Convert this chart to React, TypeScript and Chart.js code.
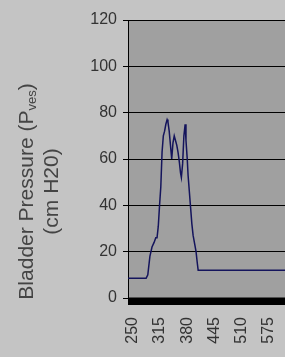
import React, { useEffect, useRef } from "react";
import { Chart, registerables } from "chart.js";

Chart.register(...registerables);

const timeValues = [239, 282, 286, 291, 296, 301, 305, 308, 311, 314, 317, 320, 323, 326, 329, 332, 334, 337, 340, 343, 346, 349, 352, 355, 358, 361, 364, 366, 369, 372, 375, 377, 380, 382, 385, 388, 391, 394, 398, 401, 404, 406, 613];
const pressureValues = [8.5, 8.5, 10, 18, 22, 24, 26, 26, 31, 40, 48, 63, 70, 72, 75, 77, 76, 72, 66, 60, 67, 70, 68, 66, 63, 59, 54, 52, 58, 70, 75, 68, 60, 53, 46, 39, 32, 27, 23, 20, 15, 12, 12];
const xTickValues = [250, 315, 380, 445, 510, 575];
const yTickMin = 0;
const yTickMax = 120;
const yTickStep = 20;
const titleMain = "Bladder Pressure (P";
const titleSub = "ves";
const titleEnd = ")";
const titleLine2 = "(cm H20)";

const FONT = "'Liberation Sans', Arial, sans-serif";

const plotBgPlugin = {
  id: "plotBg",
  beforeDraw(chart: any) {
    const { ctx, chartArea } = chart;
    ctx.save();
    ctx.fillStyle = "#a0a0a0";
    ctx.fillRect(chartArea.left, chartArea.top, chartArea.right - chartArea.left, chartArea.bottom - chartArea.top);
    ctx.restore();
  },
  afterDraw(chart: any) {
    const { ctx, chartArea } = chart;
    ctx.save();
    ctx.fillStyle = "#000000";
    ctx.fillRect(chartArea.left, chartArea.bottom - 0.5, chartArea.right - chartArea.left, 7.5);
    // y-axis title with subscript
    ctx.fillStyle = "#444444";
    ctx.textBaseline = "alphabetic";
    ctx.textAlign = "left";
    const big = `21px ${FONT}`;
    const small = `13px ${FONT}`;
    ctx.font = big;
    const w1 = ctx.measureText(titleMain).width;
    const w3 = ctx.measureText(titleEnd).width;
    ctx.font = small;
    const w2 = ctx.measureText(titleSub).width;
    const total = w1 + w2 + w3;
    const cy = 191.5;
    ctx.translate(32.5, cy);
    ctx.rotate(-Math.PI / 2);
    let x = -total / 2;
    ctx.font = big;
    ctx.fillText(titleMain, x, 0);
    x += w1;
    ctx.font = small;
    ctx.fillText(titleSub, x, 3);
    x += w2;
    ctx.font = big;
    ctx.fillText(titleEnd, x, 0);
    ctx.textAlign = "center";
    ctx.fillText(titleLine2, 0, 25);
    ctx.restore();
  },
};

export default function App() {
  const canvasRef = useRef<HTMLCanvasElement | null>(null);

  useEffect(() => {
    const canvas = canvasRef.current;
    if (!canvas) return;
    const chart = new Chart(canvas, {
      type: "line",
      data: {
        datasets: [
          {
            data: timeValues.map((t, i) => ({ x: t, y: pressureValues[i] })),
            borderColor: "#14145c",
            borderWidth: 1.5,
            pointRadius: 0,
            tension: 0,
            fill: false,
          },
        ],
      },
      options: {
        animation: false,
        responsive: false,
        devicePixelRatio: 1,
        layout: { padding: { top: 20, left: 0, right: 0, bottom: 0 } },
        plugins: {
          legend: { display: false },
          tooltip: { enabled: false },
          title: { display: false },
        },
        scales: {
          x: {
            type: "linear",
            min: 238.8,
            max: 613,
            grid: { display: false, drawTicks: false },
            border: { display: false },
            afterBuildTicks: (scale: any) => {
              scale.ticks = xTickValues.map((v) => ({ value: v }));
            },
            afterFit: (scale: any) => {
              scale.height = 59;
              scale.paddingLeft = 0;
              scale.paddingRight = 0;
            },
            ticks: {
              minRotation: 90,
              maxRotation: 90,
              autoSkip: false,
              padding: 19,
              color: "#333333",
              font: { family: FONT, size: 16 },
              callback: (v: any) => String(v),
            },
          },
          y: {
            min: yTickMin,
            max: yTickMax,
            grid: { color: "#000000", lineWidth: 1, drawTicks: true, tickLength: 5 },
            border: { display: true, color: "#000000", width: 1 },
            afterFit: (scale: any) => {
              scale.width = 128;
              scale.paddingTop = 0;
              scale.paddingBottom = 0;
            },
            ticks: {
              stepSize: yTickStep,
              padding: 6,
              color: "#333333",
              font: { family: FONT, size: 16 },
            },
          },
        },
      },
      plugins: [plotBgPlugin],
    });
    return () => chart.destroy();
  }, []);

  return (
    <div style={{ position: "fixed", left: 0, top: 0, width: 285, height: 357, background: "#c4c4c4" }}>
      <canvas ref={canvasRef} width={285} height={357} style={{ display: "block" }} />
    </div>
  );
}
